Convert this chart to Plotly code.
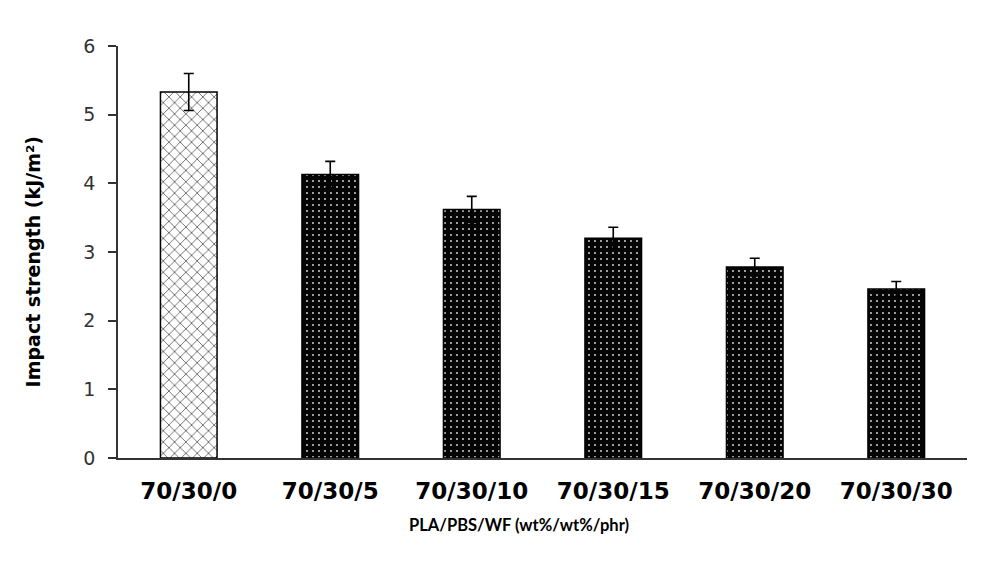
import plotly.graph_objects as go

# Blend compositions (PLA/PBS/WF) and measured impact strength
categories = ["70/30/0", "70/30/5", "70/30/10", "70/30/15", "70/30/20", "70/30/30"]
impact_strength = [5.33, 4.13, 3.62, 3.20, 2.78, 2.46]
impact_error = [0.27, 0.19, 0.19, 0.16, 0.13, 0.11]

y_ticks = [0, 1, 2, 3, 4, 5, 6]

x_title = "PLA/PBS/WF (wt%/wt%/phr)"
y_title = "Impact strength (kJ/m²)"

fig = go.Figure()

# neat PLA/PBS blend: white bar with dark cross-hatching
fig.add_trace(
    go.Bar(
        x=categories[:1],
        y=impact_strength[:1],
        width=0.4,
        marker=dict(
            color="#ffffff",
            line=dict(color="#000000", width=1.5),
            pattern=dict(
                shape="x",
                fgcolor="#222222",
                bgcolor="#ffffff",
                size=8,
                solidity=0.15,
                fillmode="replace",
            ),
        ),
        error_y=dict(
            type="data",
            array=impact_error[:1],
            visible=True,
            color="#000000",
            thickness=1.6,
            width=5,
        ),
        showlegend=False,
    )
)

# wood-flour filled blends: black bars with fine white dots
fig.add_trace(
    go.Bar(
        x=categories[1:],
        y=impact_strength[1:],
        width=0.4,
        marker=dict(
            color="#000000",
            line=dict(color="#000000", width=1.5),
            pattern=dict(
                shape=".",
                fgcolor="#d8d8d8",
                bgcolor="#050505",
                size=6,
                solidity=0.08,
                fillmode="replace",
            ),
        ),
        error_y=dict(
            type="data",
            array=impact_error[1:],
            visible=True,
            color="#000000",
            thickness=1.6,
            width=5,
        ),
        showlegend=False,
    )
)

fig.update_layout(
    width=982,
    height=567,
    barmode="overlay",
    margin=dict(l=118, r=15, t=46, b=109),
    plot_bgcolor="#ffffff",
    paper_bgcolor="#ffffff",
    font=dict(family="DejaVu Sans", color="#222222"),
    xaxis=dict(
        categoryorder="array",
        categoryarray=categories,
        showline=True,
        linecolor="#333333",
        linewidth=1.5,
        ticks="",
        tickfont=dict(family="DejaVu Sans", size=23, color="#000000", weight="bold"),
        ticklabelstandoff=12,
        automargin=False,
    ),
    yaxis=dict(
        range=[0, 6],
        tickvals=y_ticks,
        showline=True,
        linecolor="#333333",
        linewidth=1.5,
        ticks="outside",
        ticklen=8,
        tickwidth=1.5,
        tickcolor="#333333",
        showgrid=False,
        zeroline=False,
        tickfont=dict(family="DejaVu Sans", size=19, color="#333333"),
        ticklabelstandoff=9,
        automargin=False,
    ),
    annotations=[
        dict(
            text=x_title,
            xref="paper",
            yref="paper",
            x=0.472,
            y=-0.163,
            xanchor="center",
            yanchor="middle",
            showarrow=False,
            font=dict(family="Lato", size=16.5, color="#000000", weight="bold"),
        ),
        dict(
            text=y_title,
            xref="paper",
            yref="paper",
            x=-0.1,
            y=0.475,
            xanchor="center",
            yanchor="middle",
            textangle=-90,
            showarrow=False,
            font=dict(family="DejaVu Sans", size=19, color="#000000", weight="bold"),
        ),
    ],
)

fig.write_html("out.html")
